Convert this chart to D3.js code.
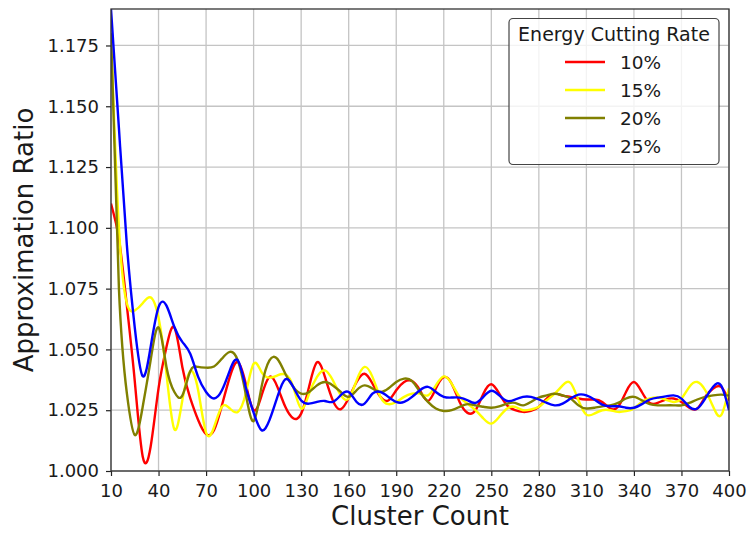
<!DOCTYPE html>
<html>
<head>
<meta charset="utf-8">
<script src="https://cdn.jsdelivr.net/npm/d3@7"></script>
<style>
  html, body { margin: 0; padding: 0; background: #fff; }
  svg { display: block; }
  text { font-family: "DejaVu Sans", sans-serif; }
</style>
</head>
<body>
<div id="chart"></div>
<script>
// ---- data ----
const clusterCounts = d3.range(10, 401, 5);
const xTicks = [10, 40, 70, 100, 130, 160, 190, 220, 250, 280, 310, 340, 370, 400];
const yTicks = [1.000, 1.025, 1.050, 1.075, 1.100, 1.125, 1.150, 1.175];
const seriesNames = ["10%", "15%", "20%", "25%"];
const seriesColors = ["#ff0000", "#ffff00", "#808000", "#0000ff"];

const rate10 = [
  1.110, 1.0955, 1.068, 1.037, 1.006, 1.010, 1.034, 1.051, 1.059, 1.0428,
  1.030, 1.021, 1.0152, 1.0168, 1.027, 1.0387, 1.0448, 1.036, 1.025, 1.031,
  1.0387, 1.0346, 1.0264, 1.0217, 1.0236, 1.0346, 1.0447, 1.0387, 1.029, 1.0254,
  1.030, 1.0366, 1.040, 1.036, 1.0305, 1.029, 1.0332, 1.0366, 1.037, 1.0332,
  1.0288, 1.0339, 1.0386, 1.0359, 1.0284, 1.0239, 1.025, 1.0318, 1.0357, 1.0318,
  1.027, 1.025, 1.0243, 1.0247, 1.0264, 1.0298, 1.0318, 1.031, 1.0305, 1.0298,
  1.0294, 1.0294, 1.0284, 1.0257, 1.0264, 1.0325, 1.0366, 1.0325, 1.028, 1.028,
  1.0294, 1.0298, 1.0284, 1.026, 1.0257, 1.0305, 1.0339, 1.0346, 1.029
];
const rate15 = [
  1.178, 1.100, 1.069, 1.066, 1.069, 1.0714, 1.063, 1.040, 1.0171, 1.029,
  1.041, 1.0332, 1.0158, 1.018, 1.0264, 1.0257, 1.0243, 1.0318, 1.0441, 1.0407,
  1.0384, 1.0393, 1.0397, 1.0346, 1.0257, 1.0318, 1.0387, 1.0414, 1.0373, 1.0312,
  1.0298, 1.0373, 1.0428, 1.0387, 1.0305, 1.0275, 1.0284, 1.0305, 1.0318, 1.0318,
  1.0311, 1.0352, 1.0389, 1.0359, 1.0305, 1.0277, 1.025, 1.0216, 1.0195, 1.0223,
  1.0257, 1.0264, 1.025, 1.0253, 1.0264, 1.0291, 1.0318, 1.0352, 1.0362, 1.0291,
  1.0232, 1.0236, 1.025, 1.025, 1.0243, 1.0246, 1.0257, 1.0284, 1.0298, 1.0302,
  1.0294, 1.0284, 1.0298, 1.0346, 1.0366, 1.0332, 1.0264, 1.0229, 1.034
];
const rate20 = [
  1.180, 1.075, 1.032, 1.0148, 1.0264, 1.0455, 1.059, 1.0428, 1.0325, 1.031,
  1.041, 1.0428, 1.0425, 1.043, 1.0462, 1.049, 1.0455, 1.0318, 1.0205, 1.0346,
  1.0455, 1.0461, 1.040, 1.0346, 1.0318, 1.0325, 1.0352, 1.0366, 1.0352, 1.0325,
  1.0305, 1.0332, 1.0352, 1.0339, 1.0325, 1.0339, 1.0366, 1.038, 1.037, 1.0325,
  1.0284, 1.0257, 1.0247, 1.025, 1.0264, 1.0275, 1.027, 1.0264, 1.026, 1.0266,
  1.0277, 1.028, 1.027, 1.0284, 1.0302, 1.0311, 1.0318, 1.0311, 1.0298, 1.027,
  1.0257, 1.026, 1.0266, 1.027, 1.028, 1.0298, 1.0305, 1.0291, 1.0275, 1.027,
  1.027, 1.027, 1.027, 1.028, 1.0294, 1.0305, 1.0311, 1.0314, 1.031
];
const rate25 = [
  1.190, 1.141, 1.093, 1.059, 1.039, 1.051, 1.0674, 1.068, 1.0592, 1.0531,
  1.0482, 1.0387, 1.0325, 1.0298, 1.0332, 1.0414, 1.0455, 1.0346, 1.024, 1.0168,
  1.0209, 1.0305, 1.0377, 1.0346, 1.029, 1.0277, 1.0284, 1.0288, 1.0284, 1.0312,
  1.0325, 1.0284, 1.0277, 1.0318, 1.0325, 1.0305, 1.0284, 1.0284, 1.0305, 1.0332,
  1.0346, 1.0325, 1.0305, 1.0302, 1.0302, 1.0291, 1.028, 1.0305, 1.033, 1.0311,
  1.0288, 1.0294, 1.0305, 1.0305, 1.0294, 1.028, 1.027, 1.0277, 1.0298, 1.0314,
  1.0311, 1.0294, 1.0273, 1.0266, 1.0266, 1.026, 1.026, 1.0275, 1.0294, 1.0302,
  1.0307, 1.0311, 1.0298, 1.0264, 1.0257, 1.0298, 1.0346, 1.0352, 1.025
];
const seriesValues = [rate10, rate15, rate20, rate25];

// ---- layout ----
const W = 748, H = 535;
const margin = { top: 9, right: 19, bottom: 64, left: 111 };
const iw = W - margin.left - margin.right;
const ih = H - margin.top - margin.bottom;

const svg = d3.select("#chart").append("svg")
  .attr("width", W).attr("height", H);

const g = svg.append("g").attr("transform", `translate(${margin.left},${margin.top})`);

const x = d3.scaleLinear().domain([10, 400]).range([0, iw]);
const y = d3.scaleLinear().domain([1.0, 1.19]).range([ih, 0]);

// grid
g.append("g").selectAll("line").data(xTicks).join("line")
  .attr("x1", d => x(d)).attr("x2", d => x(d))
  .attr("y1", 0).attr("y2", ih)
  .attr("stroke", "#c4c4c4").attr("stroke-width", 1.3);
g.append("g").selectAll("line").data(yTicks).join("line")
  .attr("x1", 0).attr("x2", iw)
  .attr("y1", d => y(d)).attr("y2", d => y(d))
  .attr("stroke", "#c4c4c4").attr("stroke-width", 1.3);

// clip
svg.append("defs").append("clipPath").attr("id", "plotclip")
  .append("rect").attr("x", 0).attr("y", 0).attr("width", iw).attr("height", ih);

const line = d3.line()
  .x((d, i) => x(clusterCounts[i]))
  .y(d => y(d))
  .curve(d3.curveNatural);

const lines = g.append("g").attr("clip-path", "url(#plotclip)");
seriesValues.forEach((vals, k) => {
  lines.append("path")
    .datum(vals)
    .attr("fill", "none")
    .attr("stroke", seriesColors[k])
    .attr("stroke-width", 2.4)
    .attr("stroke-linejoin", "round")
    .attr("d", line);
});

// axes
const xAxis = d3.axisBottom(x).tickValues(xTicks).tickSize(5).tickPadding(8)
  .tickFormat(d3.format("d"));
const yAxis = d3.axisLeft(y).tickValues(yTicks).tickSize(5).tickPadding(7)
  .tickFormat(d3.format(".3f"));

const gx = g.append("g").attr("transform", `translate(0,${ih})`).call(xAxis);
const gy = g.append("g").call(yAxis);
[gx, gy].forEach(a => {
  a.select(".domain").remove();
  a.selectAll(".tick line").attr("stroke", "#222").attr("stroke-width", 1.2);
  a.selectAll(".tick text").attr("fill", "#1a1a1a")
    .style("font-family", "'DejaVu Sans', sans-serif").style("font-size", "18px");
});

// spines
g.append("rect").attr("x", 0).attr("y", 0).attr("width", iw).attr("height", ih)
  .attr("fill", "none").attr("stroke", "#333").attr("stroke-width", 1.3);

// axis labels
svg.append("text")
  .attr("x", margin.left + iw / 2).attr("y", 525)
  .attr("text-anchor", "middle")
  .attr("fill", "#1a1a1a")
  .style("font-size", "26px")
  .text("Cluster Count");
svg.append("text")
  .attr("transform", `translate(33,${margin.top + ih / 2}) rotate(-90)`)
  .attr("text-anchor", "middle")
  .attr("fill", "#1a1a1a")
  .style("font-size", "26px")
  .text("Approximation Ratio");

// legend
const lg = svg.append("g");
lg.append("rect")
  .attr("x", 509).attr("y", 18.5).attr("width", 210).attr("height", 146)
  .attr("rx", 4).attr("ry", 4)
  .attr("fill", "#fff").attr("fill-opacity", 0.8)
  .attr("stroke", "#444").attr("stroke-width", 1.2);
lg.append("text")
  .attr("x", 614).attr("y", 40.5)
  .attr("text-anchor", "middle")
  .attr("fill", "#1a1a1a")
  .style("font-size", "19px")
  .text("Energy Cutting Rate");
seriesNames.forEach((name, k) => {
  const yy = 62 + k * 28;
  lg.append("line")
    .attr("x1", 565).attr("x2", 605).attr("y1", yy).attr("y2", yy)
    .attr("stroke", seriesColors[k]).attr("stroke-width", 2.4);
  lg.append("text")
    .attr("x", 620).attr("y", yy + 6.5)
    .attr("fill", "#1a1a1a")
    .style("font-size", "18.5px")
    .text(name);
});
</script>
</body>
</html>
